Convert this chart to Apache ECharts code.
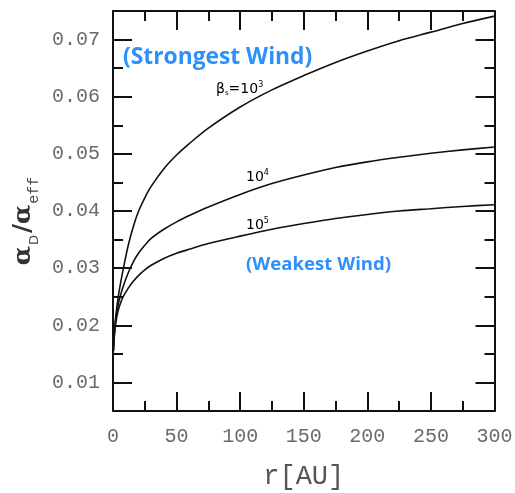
<!DOCTYPE html>
<html><head><meta charset="utf-8">
<script src="https://cdn.jsdelivr.net/npm/echarts@6/dist/echarts.min.js"></script>
<style>html,body{margin:0;padding:0;background:#fff}#c{width:515px;height:493px}</style>
</head><body><div id="c"></div>
<script>
// ---- data ----
const radius   = [0.3, 1, 2, 3.5, 5, 8, 12, 16, 20, 25, 30, 40, 50, 60, 75, 100, 125, 150, 175, 200, 225, 250, 275, 300];
const beta1e3  = [0.0155, 0.0185, 0.0212, 0.0240, 0.0262, 0.0298, 0.0340, 0.0373, 0.0399, 0.0423, 0.0443, 0.0474, 0.0498, 0.0518, 0.0545, 0.0582, 0.0612, 0.0637, 0.0660, 0.0680, 0.0698, 0.0713, 0.0728, 0.0741];
const beta1e4  = [0.0155, 0.0183, 0.0207, 0.0230, 0.0245, 0.0268, 0.0292, 0.0311, 0.0326, 0.0340, 0.0352, 0.0368, 0.0381, 0.0392, 0.0407, 0.0429, 0.0448, 0.0463, 0.0476, 0.0486, 0.0494, 0.0501, 0.0507, 0.0512];
const beta1e5  = [0.0155, 0.0180, 0.0201, 0.0220, 0.0233, 0.0250, 0.0265, 0.0277, 0.0287, 0.0297, 0.0305, 0.0317, 0.0326, 0.0333, 0.0343, 0.0356, 0.0368, 0.0378, 0.0387, 0.0394, 0.0400, 0.0404, 0.0408, 0.0411];
const xRange = [0, 300];
const yRange = [0.005, 0.075];
const xMajorTicks = [0, 50, 100, 150, 200, 250, 300];
const xMinorTicks = [25, 75, 125, 175, 225, 275];
const yMajorTicks = [0.01, 0.02, 0.03, 0.04, 0.05, 0.06, 0.07];
const yMinorTicks = [0.015, 0.025, 0.035, 0.045, 0.055, 0.065];
const xTitle = 'r[AU]';
const curveNames = ['β=10^3', '10^4', '10^5'];

// ---- styling ----
const INK = '#111';
const LBL = '#6a6a6a';
const MONO = '"Liberation Mono", "DejaVu Sans Mono", monospace';
const BLUE = '#2E90FA';

function axis(kind, pos, major, ticks, len, extra) {
  const range = kind === 'x' ? xRange : yRange;
  return Object.assign({
    type: 'value', position: pos, min: range[0], max: range[1],
    axisLine: { show: major, onZero: false, lineStyle: { color: INK, width: 2 } },
    axisTick: { show: true, inside: true, length: len, customValues: ticks, lineStyle: { color: INK, width: 2 } },
    axisLabel: { show: false },
    splitLine: { show: false },
    minorTick: { show: false }
  }, extra || {});
}

const labelStyle = { show: true, fontFamily: MONO, fontSize: 20, color: LBL };

const xAxes = [
  axis('x', 'bottom', true, xMajorTicks, 19, {
    axisLabel: Object.assign({}, labelStyle, { customValues: xMajorTicks, margin: 16, formatter: v => String(v) }),
    name: xTitle, nameLocation: 'middle', nameGap: 52,
    nameTextStyle: { fontFamily: MONO, fontSize: 27, color: '#555' }
  }),
  axis('x', 'bottom', false, xMinorTicks, 10),
  axis('x', 'top', true, xMajorTicks, 19),
  axis('x', 'top', false, xMinorTicks, 10)
];
const yAxes = [
  axis('y', 'left', true, yMajorTicks, 19, {
    axisLabel: Object.assign({}, labelStyle, { customValues: yMajorTicks, margin: 13, formatter: v => v.toFixed(2) }),
    name: '{a|α}{d|D}{a|/α}{e|eff}', nameLocation: 'middle', nameRotate: 90, nameGap: 64,
    nameTextStyle: {
      padding: [0, 20, 0, 0],
      rich: {
        a: { fontFamily: '"DejaVu Serif", serif', fontWeight: 'bold', fontSize: 25, color: '#333', lineHeight: 30, verticalAlign: 'top' },
        d: { fontFamily: '"DejaVu Sans", sans-serif', fontSize: 13, color: '#444', lineHeight: 13, padding: [25, 2, 0, 1], verticalAlign: 'bottom' },
        e: { fontFamily: MONO, fontSize: 15, color: '#444', lineHeight: 13, padding: [25, 0, 0, 1], verticalAlign: 'bottom' }
      }
    }
  }),
  axis('y', 'left', false, yMinorTicks, 10),
  axis('y', 'right', true, yMajorTicks, 19),
  axis('y', 'right', false, yMinorTicks, 10)
];

function pairs(ys) { return radius.map((r, i) => [r, ys[i]]); }
function lineSeries(name, ys) {
  return {
    type: 'line', name: name, xAxisIndex: 0, yAxisIndex: 0,
    data: pairs(ys), showSymbol: false, symbol: 'none',
    smooth: 0.3,
    lineStyle: { color: INK, width: 1.6 }, z: 3
  };
}

const curveRich = {
  n: { fontFamily: '"DejaVu Sans", sans-serif', fontSize: 14, color: '#666' },
  s: { fontFamily: '"DejaVu Sans", sans-serif', fontSize: 7, color: '#666', padding: [8, 0, 0, 0], verticalAlign: 'bottom' },
  p: { fontFamily: '"DejaVu Sans", sans-serif', fontSize: 8, color: '#666', padding: [0, 0, 8, 0], verticalAlign: 'top' }
};
const noteFont = '"Open Sans", Lato, sans-serif';

const chart = echarts.init(document.getElementById('c'), null, { renderer: 'canvas' });
chart.setOption({
  animation: false,
  backgroundColor: '#fff',
  grid: { left: 113, right: 20.5, top: 11, bottom: 82, containLabel: false, outerBoundsMode: 'none' },
  xAxis: xAxes,
  yAxis: yAxes,
  series: [lineSeries(curveNames[0], beta1e3), lineSeries(curveNames[1], beta1e4), lineSeries(curveNames[2], beta1e5)],
  graphic: [
    { type: 'text', left: 123, top: 46, style: { text: '(Strongest Wind)', fontFamily: noteFont, fontWeight: 'bold', fontSize: 22.8, fill: BLUE } },
    { type: 'text', left: 246, top: 255, style: { text: '(Weakest Wind)', fontFamily: noteFont, fontWeight: 'bold', fontSize: 18.6, fill: BLUE } },
    { type: 'text', left: 216, top: 81, style: { text: '{n|β}{s|s}{n|=10}{p|3}', rich: curveRich } },
    { type: 'text', left: 246, top: 169, style: { text: '{n|10}{p|4}', rich: curveRich } },
    { type: 'text', left: 246, top: 217, style: { text: '{n|10}{p|5}', rich: curveRich } }
  ]
});
</script>
</body></html>
